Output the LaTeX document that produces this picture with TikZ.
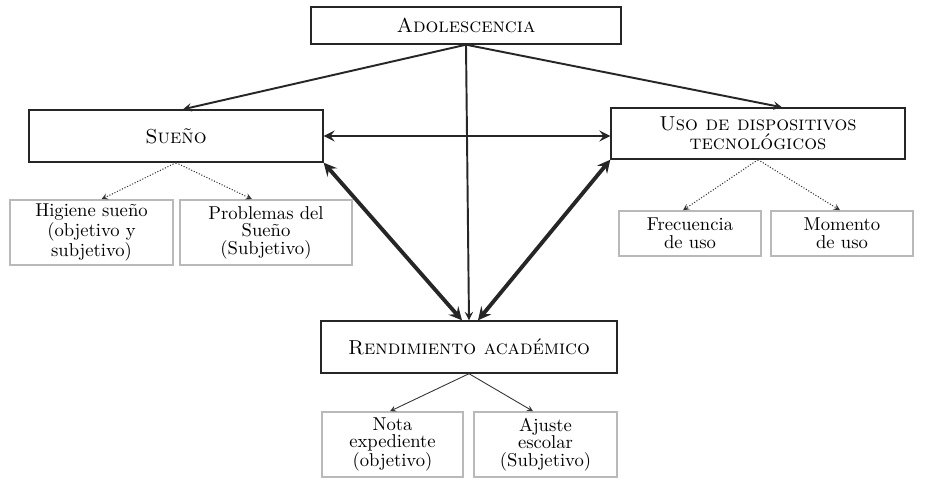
\documentclass[tikz,border=0pt]{standalone}
\usepackage{tikz}

\begin{document}
\begin{tikzpicture}[x=0.02cm,y=-0.02cm]
\tikzstyle{mainbox}=[draw=black!85,line width=0.8pt,inner sep=2pt,align=center,font=\fontsize{11.5}{10.8}\selectfont\scshape]
\tikzstyle{subbox}=[draw=gray!55,line width=0.9pt,inner sep=2pt,align=center,font=\fontsize{10.6}{10}\selectfont]
\useasboundingbox (0,0) rectangle (941,479);

\node[mainbox,minimum width=6.2cm,minimum height=0.74cm] (adol) at (466,25.5) {Adolescencia};
\node[mainbox,minimum width=5.88cm,minimum height=1.04cm] (sueno) at (176,136) {Sueño};
\node[mainbox,minimum width=5.88cm,minimum height=1.02cm] (uso) at (758,133.5) {Uso de dispositivos\\tecnológicos};
\node[mainbox,minimum width=5.92cm,minimum height=1.04cm] (rend) at (469,347) {Rendimiento académico};

\node[subbox,minimum width=3.26cm,minimum height=1.3cm] (hig) at (91.5,232.5) {Higiene sueño\\(objetivo y\\subjetivo)};
\node[subbox,minimum width=3.44cm,minimum height=1.3cm] (prob) at (266,232.5) {Problemas del\\Sueño\\(Subjetivo)};
\node[subbox,minimum width=2.84cm,minimum height=0.9cm] (frec) at (690,233.5) {Frecuencia\\de uso};
\node[subbox,minimum width=2.84cm,minimum height=0.9cm] (mom) at (842,233.5) {Momento\\de uso};
\node[subbox,minimum width=2.82cm,minimum height=1.3cm] (nota) at (392.5,444.5) {Nota\\expediente\\(objetivo)};
\node[subbox,minimum width=2.86cm,minimum height=1.3cm] (ajus) at (545.5,444.5) {Ajuste\\escolar\\(Subjetivo)};

% adolescencia
\draw[line width=1.1pt,black!85,-stealth] (adol.south) -- ([xshift=0.14cm]sueno.north);
\draw[line width=1.1pt,black!85,-stealth] (adol.south) -- ([xshift=0.48cm]uso.north);
\draw[line width=1.1pt,black!85,-stealth] (adol.south) -- (rend.north);

% relaciones
\draw[line width=1.7pt,black!85,stealth-stealth] (sueno.east) -- (sueno.east -| uso.west);
\draw[line width=2.2pt,black!85,stealth-stealth] (sueno.south east) -- ([xshift=-0.14cm]rend.north);
\draw[line width=2.2pt,black!85,stealth-stealth] (uso.south west) -- ([xshift=0.18cm]rend.north);

% medidas
\draw[densely dotted,line width=0.6pt,black!80,-stealth] (sueno.south) -- ([xshift=0.2cm]hig.north);
\draw[densely dotted,line width=0.6pt,black!80,-stealth] (sueno.south) -- ([xshift=-0.28cm]prob.north);
\draw[densely dotted,line width=0.6pt,black!80,-stealth] (uso.south) -- ([xshift=-0.14cm]frec.north);
\draw[densely dotted,line width=0.6pt,black!80,-stealth] (uso.south) -- ([xshift=-0.04cm]mom.north);
\draw[line width=0.5pt,black!80,-stealth] (rend.south) -- ([xshift=-0.05cm]nota.north);
\draw[line width=0.5pt,black!80,-stealth] (rend.south) -- ([xshift=-0.25cm]ajus.north);

\end{tikzpicture}
\end{document}
